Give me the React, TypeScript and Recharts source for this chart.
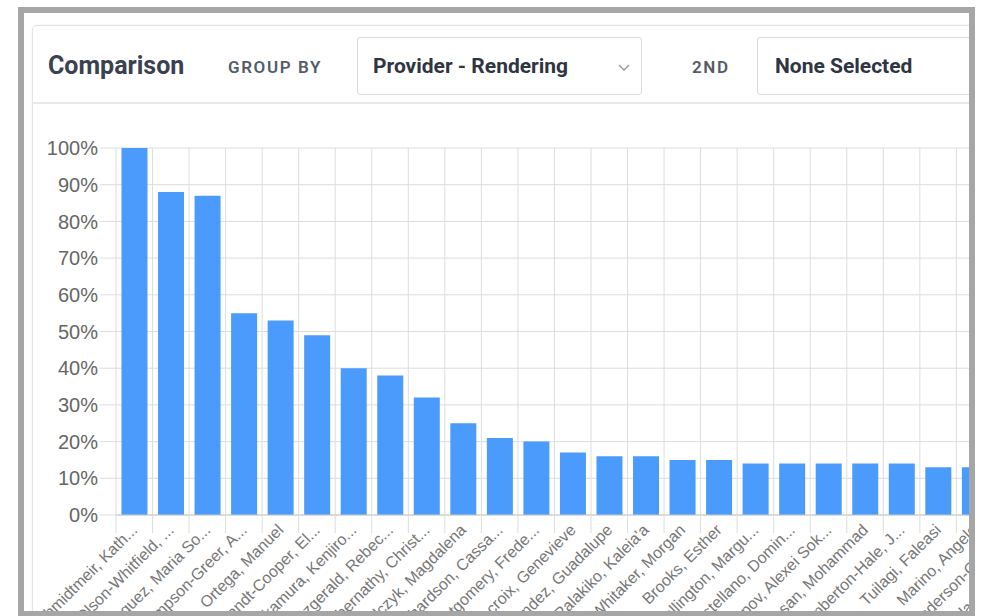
import React from 'react';
import { BarChart, Bar, XAxis, YAxis, CartesianGrid } from 'recharts';

// providers, sorted by share of rendering
const providers = [
  'Schmidtmeir, Katharina',
  'Olson-Whitfield, Jonathan',
  'Vasquez, Maria Soledad',
  'Thompson-Greer, Alexander',
  'Ortega, Manuel',
  'Brandt-Cooper, Eleanor',
  'Nakamura, Kenjiro Alan',
  'Fitzgerald, Rebecca Ann',
  'Abernathy, Christopher',
  'Kowalczyk, Magdalena',
  'Richardson, Cassandra',
  'Montgomery, Frederick',
  'Delacroix, Genevieve',
  'Hernandez, Guadalupe',
  'Palakiko, Kaleia\'a',
  'Whitaker, Morgan',
  'Brooks, Esther',
  'Wellington, Marguerite',
  'Castellano, Dominique',
  'Popov, Alexei Sokolov',
  'Hassan, Mohammad',
  'Pemberton-Hale, Jacqueline',
  'Tuilagi, Faleasi',
  'Marino, Angelo',
  'Henderson-Clarke, Josephine',
  'Oyelaran, Babatunde',
];
const renderingPct = [100, 88, 87, 55, 53, 49, 40, 38, 32, 25, 21, 20, 17, 16, 16, 15, 15, 14, 14, 14, 14, 14, 13, 13, 13, 12];
const percentTicks = [0, 10, 20, 30, 40, 50, 60, 70, 80, 90, 100];

const data = providers.map((name, i) => ({ name, value: renderingPct[i] }));

const Y_W = 86;
const CHART_W = 1036;
const band = (CHART_W - Y_W) / providers.length;

const ProviderTick = (props: any) => {
  const { x, y, payload } = props;
  const v: string = payload.value;
  const label = v.length > 20 ? v.slice(0, 17) + '...' : v;
  return (
    <g>
      <line x1={x - band / 2} x2={x - band / 2} y1={y} y2={y + 18} stroke="#ddd" />
      <text
        x={x + 4}
        y={y + 16}
        transform={`rotate(-45, ${x + 4}, ${y + 16})`}
        textAnchor="end"
        fill="#777"
        fontSize={16}
        fontFamily="Liberation Sans, Arial, sans-serif"
      >
        {label}
      </text>
    </g>
  );
};

const Chevron = () => (
  <svg width="12" height="8" style={{ position: 'absolute', right: 11, top: 26 }}>
    <polyline points="1,1 6,6 11,1" fill="none" stroke="#999" strokeWidth="1.3" />
  </svg>
);

const labelStyle: React.CSSProperties = {
  position: 'absolute',
  fontFamily: 'Roboto, sans-serif',
  fontWeight: 600,
  fontSize: 17,
  letterSpacing: 1.6,
  color: '#555c67',
  lineHeight: '20px',
};

const selectStyle: React.CSSProperties = {
  position: 'absolute',
  top: 11,
  height: 58,
  boxSizing: 'border-box',
  border: '1px solid #dcdcdc',
  borderRadius: 3,
  background: '#fff',
  fontFamily: 'Roboto, sans-serif',
  fontWeight: 700,
  fontSize: 21,
  color: '#2f3541',
  lineHeight: '56px',
};

export default function App() {
  return (
    <div style={{ position: 'fixed', left: 0, top: 0, width: 981, height: 616, overflow: 'hidden', background: '#fff' }}>
      <div
        style={{
          position: 'absolute',
          left: 18,
          top: 7,
          width: 957,
          height: 610,
          boxSizing: 'border-box',
          border: '6px solid #a6a6a6',
          overflow: 'hidden',
          background: '#fff',
        }}
      >
        <div
          style={{
            position: 'absolute',
            left: 8,
            top: 12,
            width: 1000,
            height: 640,
            boxSizing: 'border-box',
            border: '1px solid #e4e4e4',
            borderRadius: 5,
            boxShadow: '0 0 2px rgba(0,0,0,0.08)',
          }}
        >
          <div style={{ position: 'absolute', left: 0, top: 0, right: 0, height: 78, borderBottom: '2px solid #e8e8e8', boxSizing: 'border-box' }}>
            <div
              style={{
                position: 'absolute',
                left: 15,
                top: 25,
                fontFamily: 'Roboto, sans-serif',
                fontWeight: 700,
                fontSize: 25,
                lineHeight: '30px',
                color: '#3a4150',
              }}
            >
              Comparison
            </div>
            <div style={{ ...labelStyle, left: 195, top: 31 }}>GROUP BY</div>
            <div style={{ ...selectStyle, left: 324, width: 285, paddingLeft: 15 }}>
              Provider - Rendering
              <Chevron />
            </div>
            <div style={{ ...labelStyle, left: 659, top: 31 }}>2ND</div>
            <div style={{ ...selectStyle, left: 724, width: 300, paddingLeft: 17 }}>None Selected</div>
          </div>
        </div>

        <div style={{ position: 'absolute', left: 6, top: 123 }}>
          <BarChart
            width={CHART_W}
            height={500}
            data={data}
            margin={{ top: 12, right: 0, left: 0, bottom: 0 }}
            barCategoryGap="15%"
          >
            <CartesianGrid
              stroke="#dddddd"
              verticalCoordinatesGenerator={({ offset }: any) =>
                Array.from({ length: providers.length + 1 }, (_, i) => offset.left + (i * offset.width) / providers.length)
              }
            />
            <XAxis
              dataKey="name"
              interval={0}
              tickLine={false}
              tickSize={0}
              tickMargin={0}
              axisLine={{ stroke: '#c8c8c8' }}
              height={121}
              tick={<ProviderTick />}
            />
            <YAxis
              width={Y_W}
              domain={[0, 100]}
              ticks={percentTicks}
              interval={0}
              tickFormatter={(v: number) => `${v}%`}
              tickSize={16}
              tickLine={{ stroke: '#dddddd' }}
              axisLine={false}
              tick={{ fill: '#666', fontSize: 20, fontFamily: 'Liberation Sans, Arial, sans-serif' }}
            />
            <Bar dataKey="value" fill="#4a9bfb" isAnimationActive={false} />
          </BarChart>
        </div>
      </div>
    </div>
  );
}
